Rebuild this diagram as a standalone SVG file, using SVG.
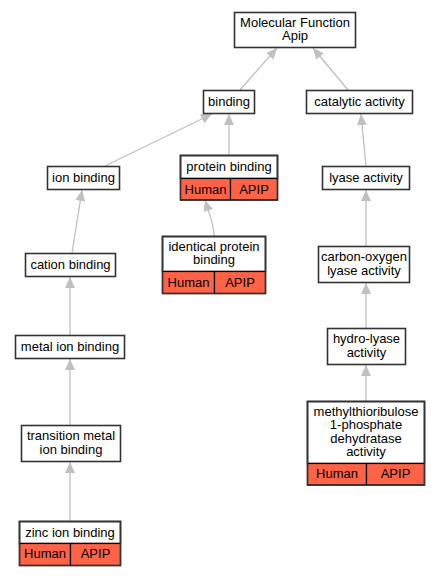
<svg xmlns="http://www.w3.org/2000/svg" width="440" height="576" viewBox="0 0 440 576">
<defs>
<style>
.n{fill:#fff;stroke:#333;stroke-width:1.6}
.r{fill:#ff6347;stroke:#000;stroke-width:1.2}
.o{fill:none;stroke:#333;stroke-width:1.6}
text{font-family:"Liberation Sans",Arial,sans-serif;font-size:13px;fill:#000;text-anchor:middle}
.e{fill:none;stroke:#c0c0c0;stroke-width:1.3;marker-end:url(#a)}
</style>
<marker id="a" markerWidth="11" markerHeight="10" refX="11" refY="5" orient="auto" markerUnits="userSpaceOnUse">
<path d="M0,0 L11,5 L0,10 z" fill="#c0c0c0"/>
</marker>
</defs>
<g id="edges">
<path class="e" d="M240,90 L277,48"/>
<path class="e" d="M348,90 L313,48"/>
<path class="e" d="M105,166 L212,114"/>
<path class="e" d="M229,155 L229,114"/>
<path class="e" d="M366,166 L361,114"/>
<path class="e" d="M72,253 L82,190"/>
<path class="e" d="M214,236 C214,224 210,216 205,200"/>
<path class="e" d="M70,335 L70,277"/>
<path class="e" d="M70,425 L70,359"/>
<path class="e" d="M70,521 L70,462"/>
<path class="e" d="M366,246 L366,190"/>
<path class="e" d="M366,328 L366,283"/>
<path class="e" d="M366,401 L366,365"/>
</g>
<g id="mf">
<rect class="n" x="234.5" y="12.5" width="121" height="35"/>
<text x="295" y="26.5">Molecular Function</text>
<text x="295" y="40">Apip</text>
</g>
<g id="binding">
<rect class="n" x="203.5" y="90.5" width="51" height="23"/>
<text x="229" y="106">binding</text>
</g>
<g id="catalytic">
<rect class="n" x="306.5" y="90.5" width="106" height="23"/>
<text x="359.5" y="106">catalytic activity</text>
</g>
<g id="lyase">
<rect class="n" x="322.5" y="166.5" width="87" height="23"/>
<text x="366" y="182">lyase activity</text>
</g>
<g id="ionbinding">
<rect class="n" x="47.5" y="166.5" width="72" height="23"/>
<text x="83.5" y="182">ion binding</text>
</g>
<g id="proteinbinding">
<rect class="n" x="180.5" y="155.5" width="97" height="23"/>
<text x="229" y="171">protein binding</text>
<rect class="r" x="180.5" y="178.5" width="50" height="21.5"/>
<rect class="r" x="230.5" y="178.5" width="47" height="21.5"/>
<text x="205.5" y="193.5">Human</text>
<text x="254" y="193.5">APIP</text>
<rect class="o" x="180.5" y="155.5" width="97" height="44.5"/>
</g>
<g id="cation">
<rect class="n" x="25.5" y="253.5" width="90" height="23"/>
<text x="70.5" y="269">cation binding</text>
</g>
<g id="identical">
<rect class="n" x="162.5" y="236.5" width="103" height="35"/>
<text x="214" y="250.5">identical protein</text>
<text x="214" y="264">binding</text>
<rect class="r" x="162.5" y="271.5" width="52" height="22"/>
<rect class="r" x="214.5" y="271.5" width="51" height="22"/>
<text x="188.5" y="286.5">Human</text>
<text x="240" y="286.5">APIP</text>
<rect class="o" x="162.5" y="236.5" width="103" height="57"/>
</g>
<g id="carbonoxygen">
<rect class="n" x="318.5" y="246.5" width="91" height="36"/>
<text x="364" y="261">carbon-oxygen</text>
<text x="364" y="274.5">lyase activity</text>
</g>
<g id="metal">
<rect class="n" x="15.5" y="335.5" width="109" height="23"/>
<text x="70" y="351">metal ion binding</text>
</g>
<g id="hydro">
<rect class="n" x="327.5" y="328.5" width="78" height="36"/>
<text x="366.5" y="343">hydro-lyase</text>
<text x="366.5" y="356.5">activity</text>
</g>
<g id="methyl">
<rect class="n" x="307.5" y="401.5" width="117" height="62"/>
<text x="366" y="415.5">methylthioribulose</text>
<text x="366" y="429">1-phosphate</text>
<text x="366" y="442.5">dehydratase</text>
<text x="366" y="456">activity</text>
<rect class="r" x="307.5" y="463.5" width="59" height="21.5"/>
<rect class="r" x="366.5" y="463.5" width="58" height="21.5"/>
<text x="337" y="477.5">Human</text>
<text x="395.5" y="477.5">APIP</text>
<rect class="o" x="307.5" y="401.5" width="117" height="83.5"/>
</g>
<g id="transition">
<rect class="n" x="21.5" y="425.5" width="99" height="36"/>
<text x="71" y="440">transition metal</text>
<text x="71" y="453.5">ion binding</text>
</g>
<g id="zinc">
<rect class="n" x="19.5" y="521.5" width="101" height="22"/>
<text x="70" y="536.5">zinc ion binding</text>
<rect class="r" x="19.5" y="543.5" width="51" height="22"/>
<rect class="r" x="70.5" y="543.5" width="50" height="22"/>
<text x="45" y="558">Human</text>
<text x="95.5" y="558">APIP</text>
<rect class="o" x="19.5" y="521.5" width="101" height="44"/>
</g>
</svg>
